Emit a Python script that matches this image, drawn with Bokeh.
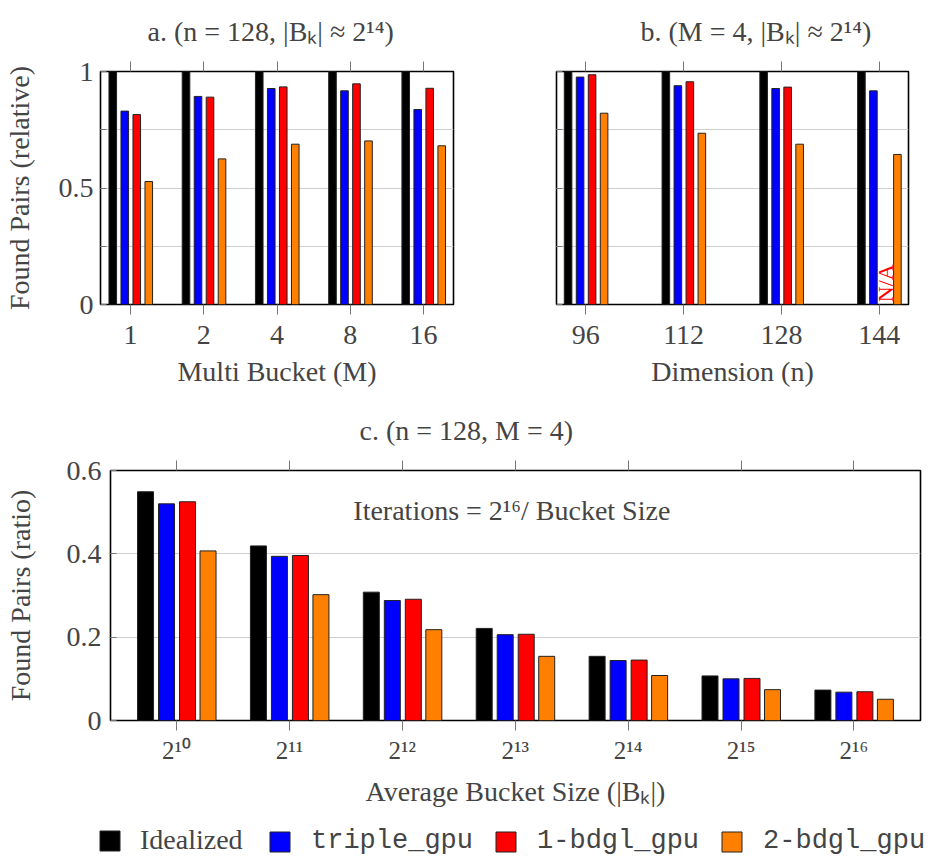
from bokeh.plotting import figure
from bokeh.models import (Range1d, FixedTicker, Label, Legend, LegendItem,
                          LinearAxis, ColumnDataSource)
from bokeh.layouts import column, row
from bokeh.transform import dodge
from bokeh.embed import file_html
from bokeh.resources import INLINE

# ---------------- data ----------------
series_names = ["Idealized", "triple_gpu", "1-bdgl_gpu", "2-bdgl_gpu"]
series_colors = ["#000000", "#0000ff", "#ff0000", "#ff8000"]

a_labels = ["1", "2", "4", "8", "16"]
a_idealized = [1.0, 1.0, 1.0, 1.0, 1.0]
a_triple = [0.830, 0.893, 0.927, 0.917, 0.837]
a_bdgl1 = [0.815, 0.890, 0.934, 0.947, 0.928]
a_bdgl2 = [0.528, 0.625, 0.688, 0.702, 0.681]

b_labels = ["96", "112", "128", "144"]
b_idealized = [1.0, 1.0, 1.0, 1.0]
b_triple = [0.976, 0.939, 0.927, 0.917]
b_bdgl1 = [0.986, 0.956, 0.933, float("nan")]  # N/A at n=144
b_bdgl2 = [0.821, 0.735, 0.688, 0.644]

c_labels = ["2¹⁰", "2¹¹", "2¹²", "2¹³", "2¹⁴", "2¹⁵", "2¹⁶"]
c_idealized = [0.549, 0.419, 0.308, 0.221, 0.154, 0.107, 0.073]
c_triple = [0.520, 0.394, 0.288, 0.206, 0.144, 0.100, 0.068]
c_bdgl1 = [0.525, 0.396, 0.291, 0.207, 0.145, 0.101, 0.069]
c_bdgl2 = [0.407, 0.302, 0.218, 0.154, 0.108, 0.074, 0.051]

SERIF = "Liberation Serif"
MONO = "Liberation Mono"
FS = "28px"


def style_panel(p, labels, yticks, ylabels, xlabel, ylabel, title, title_offset):
    n = len(labels)
    xb = p.below[0]
    yl = p.left[0]
    xb.ticker = FixedTicker(ticks=list(range(n)))
    xb.major_label_overrides = {i: lab for i, lab in enumerate(labels)}
    yl.ticker = FixedTicker(ticks=yticks)
    yl.major_label_overrides = {t: l for t, l in zip(yticks, ylabels)}
    for ax in (xb, yl):
        ax.axis_line_color = None
        ax.major_label_text_font = SERIF
        ax.major_label_text_font_size = FS
        ax.axis_label_text_font = SERIF
        ax.axis_label_text_font_size = FS
        ax.axis_label_text_font_style = "normal"
        ax.minor_tick_line_color = None
        ax.major_tick_line_color = "#777777"
    xb.major_tick_out = 10
    xb.major_tick_in = 0
    yl.major_tick_out = 0
    yl.major_tick_in = 6
    xb.axis_label = xlabel
    if ylabel:
        yl.axis_label = ylabel
    p.xgrid.grid_line_color = None
    p.ygrid.grid_line_color = "#cfcfcf"
    p.ygrid.grid_line_width = 1
    p.outline_line_color = "black"
    p.outline_line_width = 1.6
    p.background_fill_color = "white"
    top = LinearAxis(ticker=FixedTicker(ticks=list(range(n))),
                     major_label_overrides={i: "" for i in range(n)},
                     axis_line_color=None, major_tick_out=10, major_tick_in=0,
                     major_tick_line_color="#777777", minor_tick_line_color=None,
                     major_label_text_font_size="1px", major_label_standoff=0)
    p.add_layout(top, "above")
    p.title.text = title
    p.title.align = "left"
    p.title.vertical_align = "top"
    p.title.offset = title_offset
    p.title.text_font = SERIF
    p.title.text_font_size = FS
    p.title.text_font_style = "normal"
    p.title.standoff = 26
    return xb, yl


def add_bars(p, n, series, px_offsets, px_width, px_per_unit):
    rends = []
    for vals, col, off in zip(series, series_colors, px_offsets):
        src = ColumnDataSource(dict(x=list(range(n)), top=vals))
        r = p.vbar(x=dodge("x", off / px_per_unit), top="top",
                   width=px_width / px_per_unit, bottom=0, source=src,
                   fill_color=col, line_color="#222222", line_width=1)
        rends.append(r)
    return rends


# ---------------- panel a ----------------
pa = figure(width=464, height=400, output_backend="svg", toolbar_location=None,
            x_range=Range1d(-0.41, 4.41), y_range=Range1d(0, 1),
            min_border_left=100, min_border_right=11, min_border_top=71,
            min_border_bottom=96)
xa, ya = style_panel(pa, a_labels, [0, 0.25, 0.5, 0.75, 1],
                     ["0", "", "0.5", "", "1"], "Multi Bucket (M)",
                     "Found Pairs (relative)", "a. (n = 128, |Bₖ| ≈ 2¹⁴)", 47)
xa.major_label_standoff = 11
xa.axis_label_standoff = 9
ya.major_label_standoff = 7
ya.axis_label_standoff = 21
add_bars(pa, len(a_labels), [a_idealized, a_triple, a_bdgl1, a_bdgl2],
         [-17.75, -5.75, 6.25, 18.25], 7.6, 353 / 4.82)

# ---------------- panel b ----------------
pb = figure(width=456, height=400, output_backend="svg", toolbar_location=None,
            x_range=Range1d(-0.30, 3.30), y_range=Range1d(0, 1),
            min_border_left=92, min_border_right=12, min_border_top=71,
            min_border_bottom=96)
xb_, yb_ = style_panel(pb, b_labels, [0, 0.25, 0.5, 0.75, 1],
                       ["", "", "", "", ""], "Dimension (n)", "",
                       "b. (M = 4, |Bₖ| ≈ 2¹⁴)", 84)
xb_.major_label_standoff = 11
xb_.axis_label_standoff = 9
add_bars(pb, len(b_labels), [b_idealized, b_triple, b_bdgl1, b_bdgl2],
         [-17.75, -5.75, 6.25, 18.25], 7.6, 352 / 3.6)
pb.add_layout(Label(x=3 + 6.25 / (352 / 3.6), y=0.01, text="N/A",
                    angle=1.5708, text_font=SERIF, text_font_size="22px",
                    text_color="#ff0000", text_align="left",
                    text_baseline="middle"))

# ---------------- panel c ----------------
pc = figure(width=922, height=422, output_backend="svg", toolbar_location=None,
            x_range=Range1d(-0.585, 6.59), y_range=Range1d(0, 0.6),
            min_border_left=110, min_border_right=2, min_border_top=70,
            min_border_bottom=102)
xc, yc = style_panel(pc, c_labels, [0, 0.2, 0.4, 0.6],
                     ["0", "0.2", "0.4", "0.6"], "Average Bucket Size (|Bₖ|)",
                     "Found Pairs (ratio)", "c. (n = 128, M = 4)", 249)
xc.major_label_text_font_size = "25px"
xc.major_label_standoff = 6
xc.axis_label_standoff = 9
yc.major_label_standoff = 9
yc.axis_label_standoff = 28
rc = add_bars(pc, len(c_labels), [c_idealized, c_triple, c_bdgl1, c_bdgl2],
              [-31.0, -10.0, 11.0, 31.5], 16, 810 / 7.175)
pc.add_layout(Label(x=2.97, y=0.503, text="Iterations = 2¹⁶/ Bucket Size",
                    text_font=SERIF, text_font_size=FS, text_align="center",
                    text_baseline="middle"))

# ---------------- legend strip (reuses the panel-c sources; bars fall
# outside this strip's range so only the legend is visible) -------------
pl = figure(width=928, height=40, output_backend="svg", toolbar_location=None,
            x_range=Range1d(-20, -19), y_range=Range1d(0, 1),
            x_axis_type=None, y_axis_type=None, min_border=0)
pl.outline_line_color = None
pl.xgrid.grid_line_color = None
pl.ygrid.grid_line_color = None
lr = []
for r, col in zip(rc, series_colors):
    lr.append(pl.vbar(x="x", top="top", width=0.1, source=r.data_source,
                      fill_color=col, line_color="#222222", line_width=1))

leg_common = dict(orientation="horizontal", glyph_width=25, glyph_height=25,
                  padding=0, margin=0, border_line_color=None,
                  background_fill_alpha=0, label_height=25)
leg1 = Legend(items=[LegendItem(label=series_names[0], renderers=[lr[0]])],
              location=(97, 6), label_text_font=SERIF, label_standoff=18,
              spacing=21, label_text_font_size=FS, **leg_common)
leg2 = Legend(items=[LegendItem(label=series_names[i], renderers=[lr[i]])
                     for i in range(1, 4)],
              location=(267, 6), label_text_font=MONO, label_standoff=19,
              spacing=20, label_text_font_size="27px", **leg_common)
pl.add_layout(leg1)
pl.add_layout(leg2)

layout = column(row(pa, pb), pc, row(pl))
open("out.html", "w").write(file_html(layout, INLINE))
